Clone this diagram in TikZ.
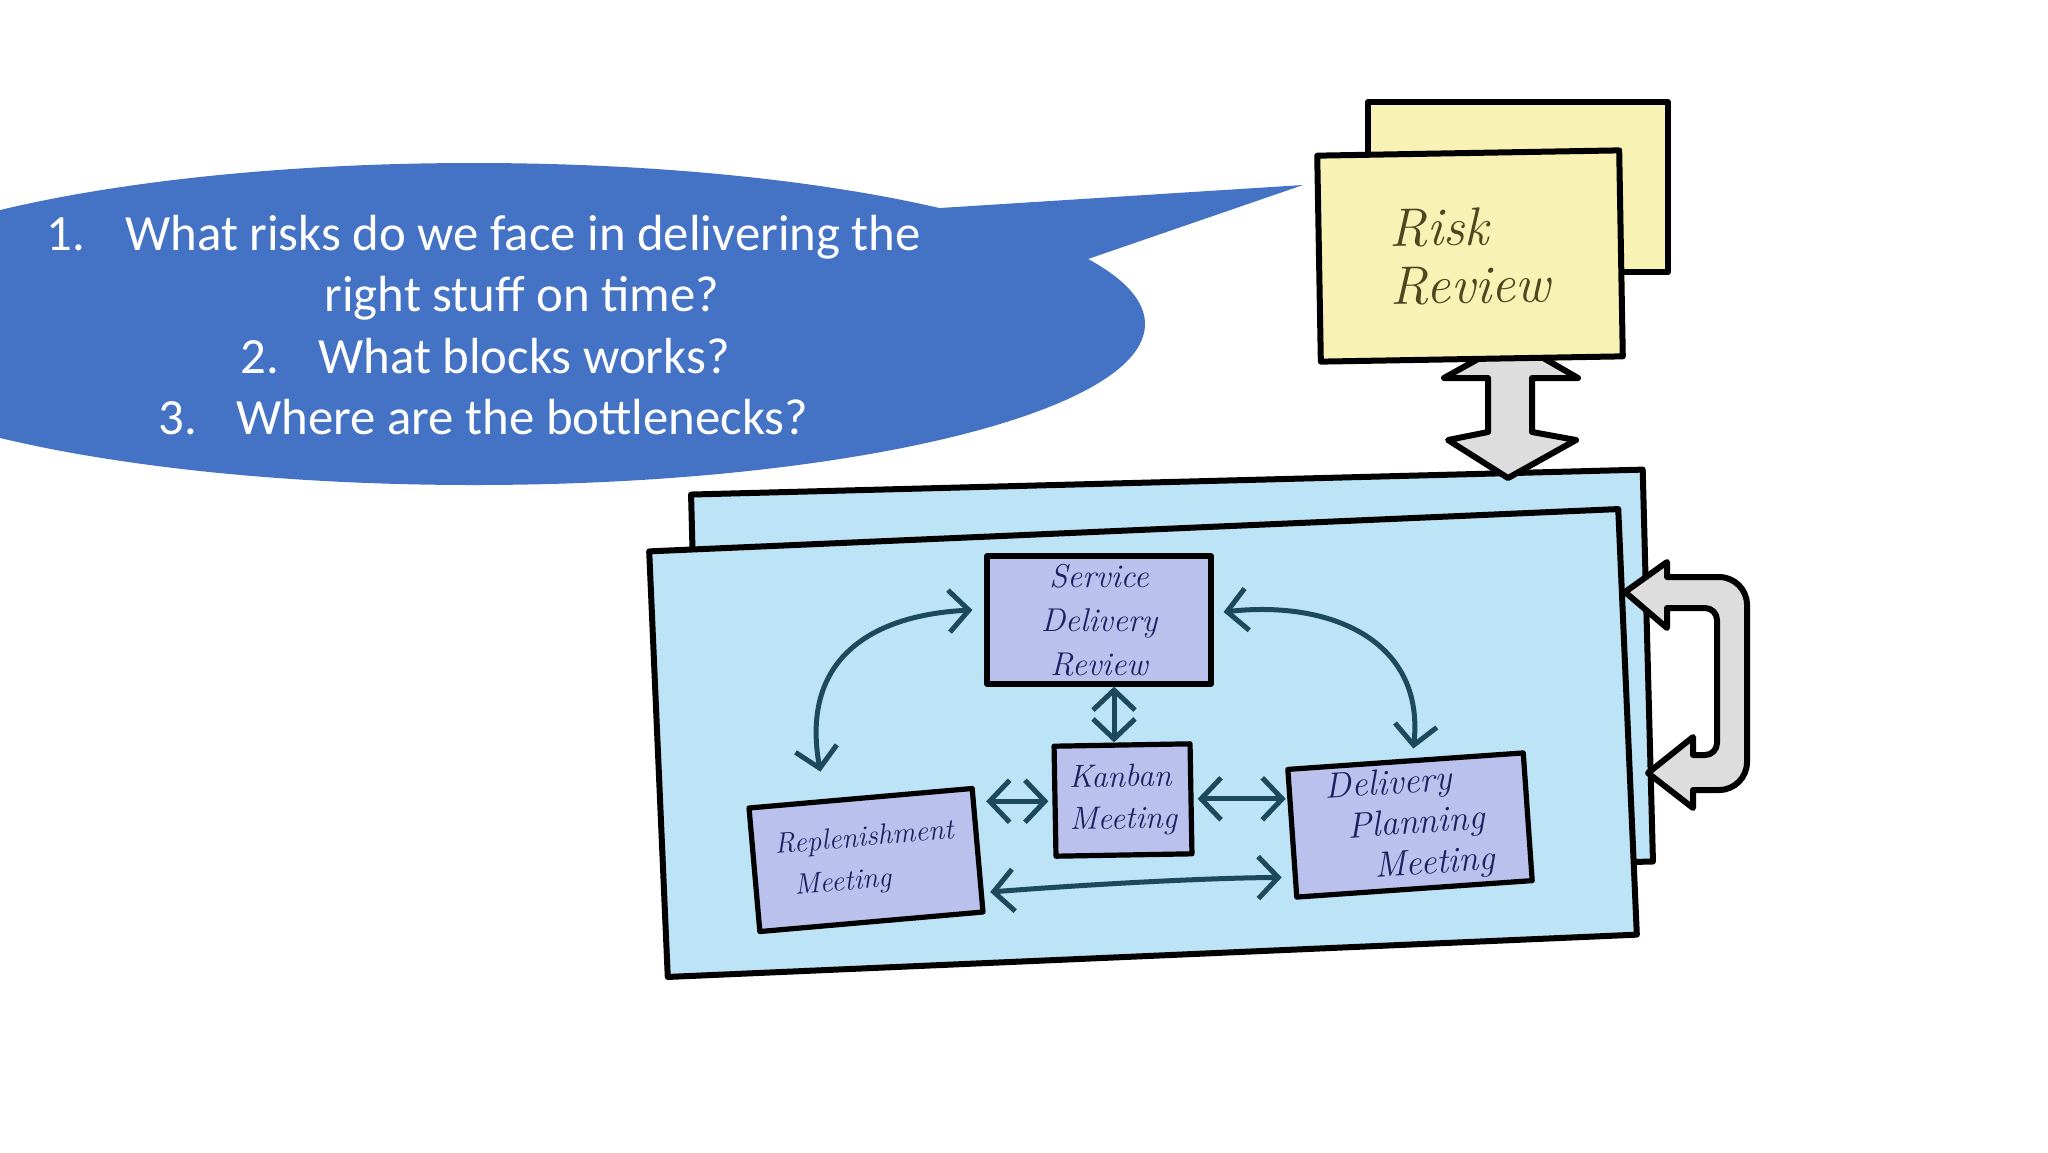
\documentclass[tikz,border=0pt]{standalone}
\usepackage{fontspec}
\newfontfamily\calibri{Carlito}
\usetikzlibrary{arrows.meta,calc}
\definecolor{bubble}{HTML}{4472C4}
\definecolor{skyfill}{HTML}{BDE3F6}
\definecolor{lav}{HTML}{B9C1EC}
\definecolor{yel}{HTML}{F8F2B4}
\definecolor{arrowc}{HTML}{1C4A5C}
\definecolor{ink}{HTML}{1B2160}
\definecolor{olivink}{HTML}{4D4620}
\definecolor{grayfill}{HTML}{DDDDDD}
\begin{document}
\begin{tikzpicture}[x=0.5pt,y=-0.5pt,
  sketch/.style={draw=black, line width=3pt, line join=round, line cap=round},
  inbox/.style={sketch, line width=2.6pt, fill=lav, text=ink, inner sep=0pt, align=left},
  conn/.style={draw=arrowc, line width=2.5pt, line cap=round, <->, >={Straight Barb[length=10pt,width=21pt]}},
  qtext/.style={text=white, font=\calibri\fontsize{25.4}{30.5}\selectfont, inner sep=0pt, anchor=base west},
  blockarrow/.style={draw=black, line width=3pt, line join=round, fill=grayfill}]
\useasboundingbox (0,0) rectangle (2048,1152);
\fill[white] (0,0) rectangle (2048,1152);
% speech bubble
\fill[bubble] (474,324) ellipse [x radius=335.5pt, y radius=80.5pt];
\fill[bubble] (940,208) -- (1303,185) -- (1088,259) -- (990,275) -- cycle;
\node[qtext] (n1) at (46,250) {1.};
\node[qtext] (q1) at (125,250) {What risks do we face in delivering the};
\node[qtext, anchor=base] (q1b) at (522,311) {right stuff on time?};
\node[qtext] (n2) at (240,373) {2.};
\node[qtext] (q2) at (318,373) {What blocks works?};
\node[qtext] (n3) at (158,434) {3.};
\node[qtext] (q3) at (236,434) {Where are the bottlenecks?};
% big boxes
\node[sketch, fill=skyfill, minimum width=476pt, minimum height=196pt, rotate=1.5] (bigback) at (1172,678) {};
\node[sketch, fill=skyfill, minimum width=485pt, minimum height=213pt, rotate=2.5] (bigfront) at (1143,743) {};
% inner boxes
\node[inbox, minimum width=112pt, minimum height=64pt, align=center,
      font=\fontsize{16.5}{22}\selectfont\itshape] (sdr) at (1099,620) {Service\\Delivery\\Review};
\node[inbox, minimum width=68pt, minimum height=55pt, rotate=1,
      font=\fontsize{16}{21}\selectfont\itshape] (kan) at (1123,800) {Kanban\\Meeting};
\node[inbox, minimum width=112pt, minimum height=62pt, rotate=5,
      font=\fontsize{14.5}{21}\selectfont\itshape] (rep) at (866,860) {Replenishment\\\hspace{8pt}Meeting};
\node[inbox, minimum width=118pt, minimum height=64pt, rotate=4,
      font=\fontsize{18}{20.5}\selectfont\itshape] (dpm) at (1410,825) {Delivery\\\hspace{10pt}Planning\\\hspace{22pt}Meeting};
% connectors
\draw[conn] ($(sdr.west)+(-12,-10)$) .. controls (870,615) and (800,660) .. ($(rep.north)+(-40,-24)$);
\draw[conn] ($(sdr.east)+(10,-8)$) .. controls (1330,600) and (1425,640) .. ($(dpm.north)+(8,-10)$);
\draw[conn] ($(kan.north)+(-8,0)$) -- ($(kan.north |- sdr.south)+(-8,0)$);
\draw[conn] ($(kan.west)+(-4,0)$) -- ($(kan.west -| rep.east)+(6,0)$);
\draw[conn] ($(kan.east)+(4,0)$) -- ($(kan.east -| dpm.west)+(-4,0)$);
\draw[conn] ($(rep.east)+(10,42)$) .. controls (1080,885) and (1200,878) .. ($(dpm.west)+(-8,44)$);
% gray vertical double arrow
\draw[blockarrow] (1512,340) -- (1578,378) -- (1532,378) -- (1532,432) -- (1576,440) -- (1508,478)
   -- (1448,440) -- (1488,432) -- (1488,378) -- (1444,378) -- cycle;
% gray loop arrow
\draw[blockarrow] (1625,592) -- (1667,562) -- (1667,577) [rounded corners=14pt] -- (1747,577) -- (1747,790) [sharp corners]
   -- (1693,790) -- (1693,808) -- (1648,773) -- (1693,737) -- (1693,755) [rounded corners=6pt] -- (1717,755) -- (1717,608) [sharp corners]
   -- (1667,608) -- (1667,628) -- cycle;
% risk review
\node[sketch, fill=yel, minimum width=150pt, minimum height=85pt] (riskback) at (1518,187) {};
\node[sketch, fill=yel, minimum width=151pt, minimum height=103pt, rotate=1, text=olivink, align=left,
      font=\fontsize{27}{29}\selectfont\itshape] (risk) at (1470,256) {Risk\\Review};
\end{tikzpicture}
\end{document}
